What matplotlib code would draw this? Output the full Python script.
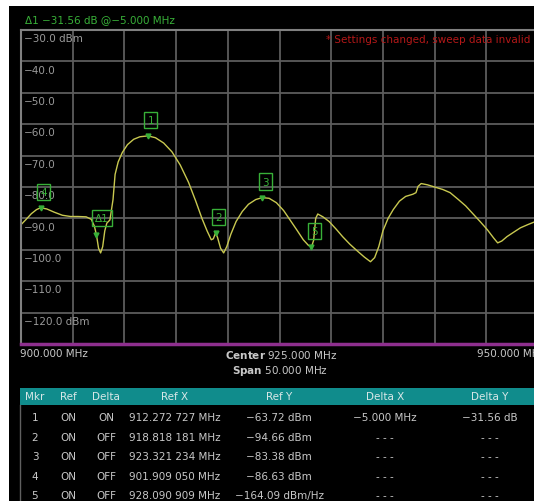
import numpy as np
import matplotlib
matplotlib.use("Agg")
import matplotlib.pyplot as plt
from matplotlib.patches import Rectangle
from matplotlib.lines import Line2D

# スペアナのトレース (MHz, dBm)
freq_mhz = [900.0, 900.5, 901.0, 901.5, 901.9, 902.5, 903.2, 904.0, 904.8, 905.5,
            906.3, 906.8, 907.1, 907.3, 907.5, 907.7, 907.9, 908.1, 908.3, 908.6,
            908.9, 909.1, 909.4, 909.8, 910.3, 910.9, 911.5, 912.27, 913.0, 913.8,
            914.6, 915.4, 916.2, 916.9, 917.5, 918.0, 918.4, 918.6, 918.82, 919.0,
            919.3, 919.6, 919.9, 920.3, 920.8, 921.4, 922.0, 922.7, 923.32, 924.0,
            924.7, 925.4, 926.0, 926.7, 927.3, 927.8, 928.09, 928.3, 928.5, 928.7,
            929.2, 929.8, 930.5, 931.1, 931.8, 932.5, 933.2, 933.8, 934.2, 934.6,
            935.0, 935.5, 936.0, 936.6, 937.2, 937.9, 938.2, 938.4, 938.7, 939.3,
            940.0, 940.8, 941.5, 942.3, 943.0, 943.7, 944.4, 945.1, 945.7, 946.1,
            946.5, 947.0, 947.6, 948.3, 949.0, 949.6, 950.0]
level_dbm = [-92.0, -90.3, -88.5, -87.2, -86.6, -87.0, -88.0, -89.0, -89.4, -89.4,
             -89.5, -90.3, -92.5, -95.3, -99.5, -101.0, -99.0, -94.0, -91.5, -90.5,
             -84.0, -76.0, -72.0, -69.0, -66.5, -64.8, -64.0, -63.72, -64.3, -66.0,
             -68.8, -73.0, -78.5, -84.5, -90.0, -94.0, -96.8, -96.5, -94.66, -96.0,
             -99.5, -101.0, -99.0, -95.0, -91.0, -87.8, -85.5, -84.0, -83.38, -83.6,
             -85.0, -87.5, -90.4, -93.8, -96.8, -98.6, -99.1, -97.0, -90.0, -88.6,
             -89.5, -91.0, -93.5, -95.8, -98.2, -100.3, -102.3, -103.8, -102.5, -99.0,
             -94.0, -90.0, -87.2, -84.5, -83.0, -82.3, -81.8, -79.8, -78.9, -79.3,
             -80.0, -80.8, -81.8, -84.0, -86.0, -88.5, -91.0, -93.6, -96.2, -97.8,
             -97.2, -95.8, -94.5, -93.0, -92.0, -91.2, -90.8]

# マーカー
marker_no = ["1", "2", "3", "4", "5"]
marker_x = [912.272727, 918.818181, 923.321234, 901.909050, 928.090909]
marker_y = [-63.72, -94.66, -83.38, -86.63, -99.1]
delta_x = -5.000
delta_y = -31.56

# 表
table_head = ["Mkr", "Ref", "Delta", "Ref X", "Ref Y", "Delta X", "Delta Y"]
table_rows = [
    ["1", "ON", "ON", "912.272 727 MHz", "−63.72 dBm", "−5.000 MHz", "−31.56 dB"],
    ["2", "ON", "OFF", "918.818 181 MHz", "−94.66 dBm", "- - -", "- - -"],
    ["3", "ON", "OFF", "923.321 234 MHz", "−83.38 dBm", "- - -", "- - -"],
    ["4", "ON", "OFF", "901.909 050 MHz", "−86.63 dBm", "- - -", "- - -"],
    ["5", "ON", "OFF", "928.090 909 MHz", "−164.09 dBm/Hz", "- - -", "- - -"],
]
col_x = [35, 68, 106, 175, 279, 385, 490]

W, H = 534, 502
def px(x, y):
    return x / W, 1 - y / H

fig = plt.figure(figsize=(W / 100, H / 100), dpi=100)
fig.patch.set_facecolor("black")
# 上と左の白い縁
fig.patches.append(Rectangle((0, 1 - 7 / H), 1, 7 / H, transform=fig.transFigure,
                             facecolor="white", edgecolor="none"))
fig.patches.append(Rectangle((0, 0), 9 / W, 1, transform=fig.transFigure,
                             facecolor="white", edgecolor="none"))

green = "#38b038"
fs = 7.5

#######################################
# グラフ部分
#######################################
ax = fig.add_axes([21 / W, 1 - 345 / H, 517 / W, 314 / H])
ax.set_facecolor("black")
ax.set_xlim(900, 950)
ax.set_ylim(-130, -30)
ax.set_xticks(np.arange(900, 951, 5))
ax.set_yticks(np.arange(-130, -29, 10))
ax.grid(True, color="#5c5c5c", linewidth=1.3)
ax.tick_params(length=0, labelleft=False, labelbottom=False)
for s in ["left", "top"]:
    ax.spines[s].set_color("#808080")
    ax.spines[s].set_linewidth(1.5)
ax.spines["right"].set_visible(False)
ax.spines["bottom"].set_color("#8e2f8e")
ax.spines["bottom"].set_linewidth(2.5)

for v in range(-30, -121, -10):
    lab = "−%.1f" % abs(v)
    if v in (-30, -120):
        lab += " dBm"
    ax.text(900.25, v - 2.6, lab, color="#9a9a9a", fontsize=fs, va="center")

ax.plot(freq_mhz, level_dbm, color="#c8c850", linewidth=1.0)

# マーカーの箱と三角
def put_marker(x, y, text, dx=3, dy=16):
    ax.plot(x, y, marker="v", color=green, markersize=3.5, linestyle="none")
    ax.annotate(text, (x, y), xytext=(dx * 0.72, dy * 0.72), textcoords="offset points",
                ha="center", va="center", color=green, fontsize=fs,
                bbox=dict(boxstyle="square,pad=0.3", fc="none", ec=green, lw=1.0))

for n, x, y in zip(marker_no, marker_x, marker_y):
    put_marker(x, y, n)
put_marker(marker_x[0] + delta_x, marker_y[0] + delta_y, "Δ1", dx=6, dy=17)

#######################################
# 文字
#######################################
fig.text(*px(25, 20), "Δ1 −31.56 dB @−5.000 MHz", color=green, fontsize=fs, va="center")
fig.text(*px(326, 40), "* Settings changed, sweep data invalid", color="#b41818",
         fontsize=fs, va="center")

fig.text(*px(20, 354), "900.000 MHz", color="#c8c8c8", fontsize=fs, va="center")
fig.text(*px(545, 354), "950.000 MHz", color="#c8c8c8", fontsize=fs, va="center", ha="right")
fig.text(*px(281, 355), r"$\bf{Center}$ 925.000 MHz", color="#c8c8c8", fontsize=fs,
         va="center", ha="center")
fig.text(*px(280, 371), r"$\bf{Span}$ 50.000 MHz", color="#c8c8c8", fontsize=fs,
         va="center", ha="center")

#######################################
# マーカー表
#######################################
fig.patches.append(Rectangle(px(20, 406), (W - 20) / W, 17 / H, transform=fig.transFigure,
                             facecolor="#108c8c", edgecolor="none"))
fig.lines.append(Line2D([20 / W, 20 / W], [1 - 406 / H, 0], transform=fig.transFigure,
                        color="#606060", linewidth=1.0))
for cx, h in zip(col_x, table_head):
    fig.text(*px(cx, 397), h, color="#d8e8e8", fontsize=fs, ha="center", va="center")
for i, row in enumerate(table_rows):
    y = 418 + i * 19.6
    for cx, t in zip(col_x, row):
        fig.text(*px(cx, y), t, color="#c8c8c8", fontsize=fs, ha="center", va="center")

plt.savefig("out.png", dpi=100, facecolor=fig.get_facecolor())
